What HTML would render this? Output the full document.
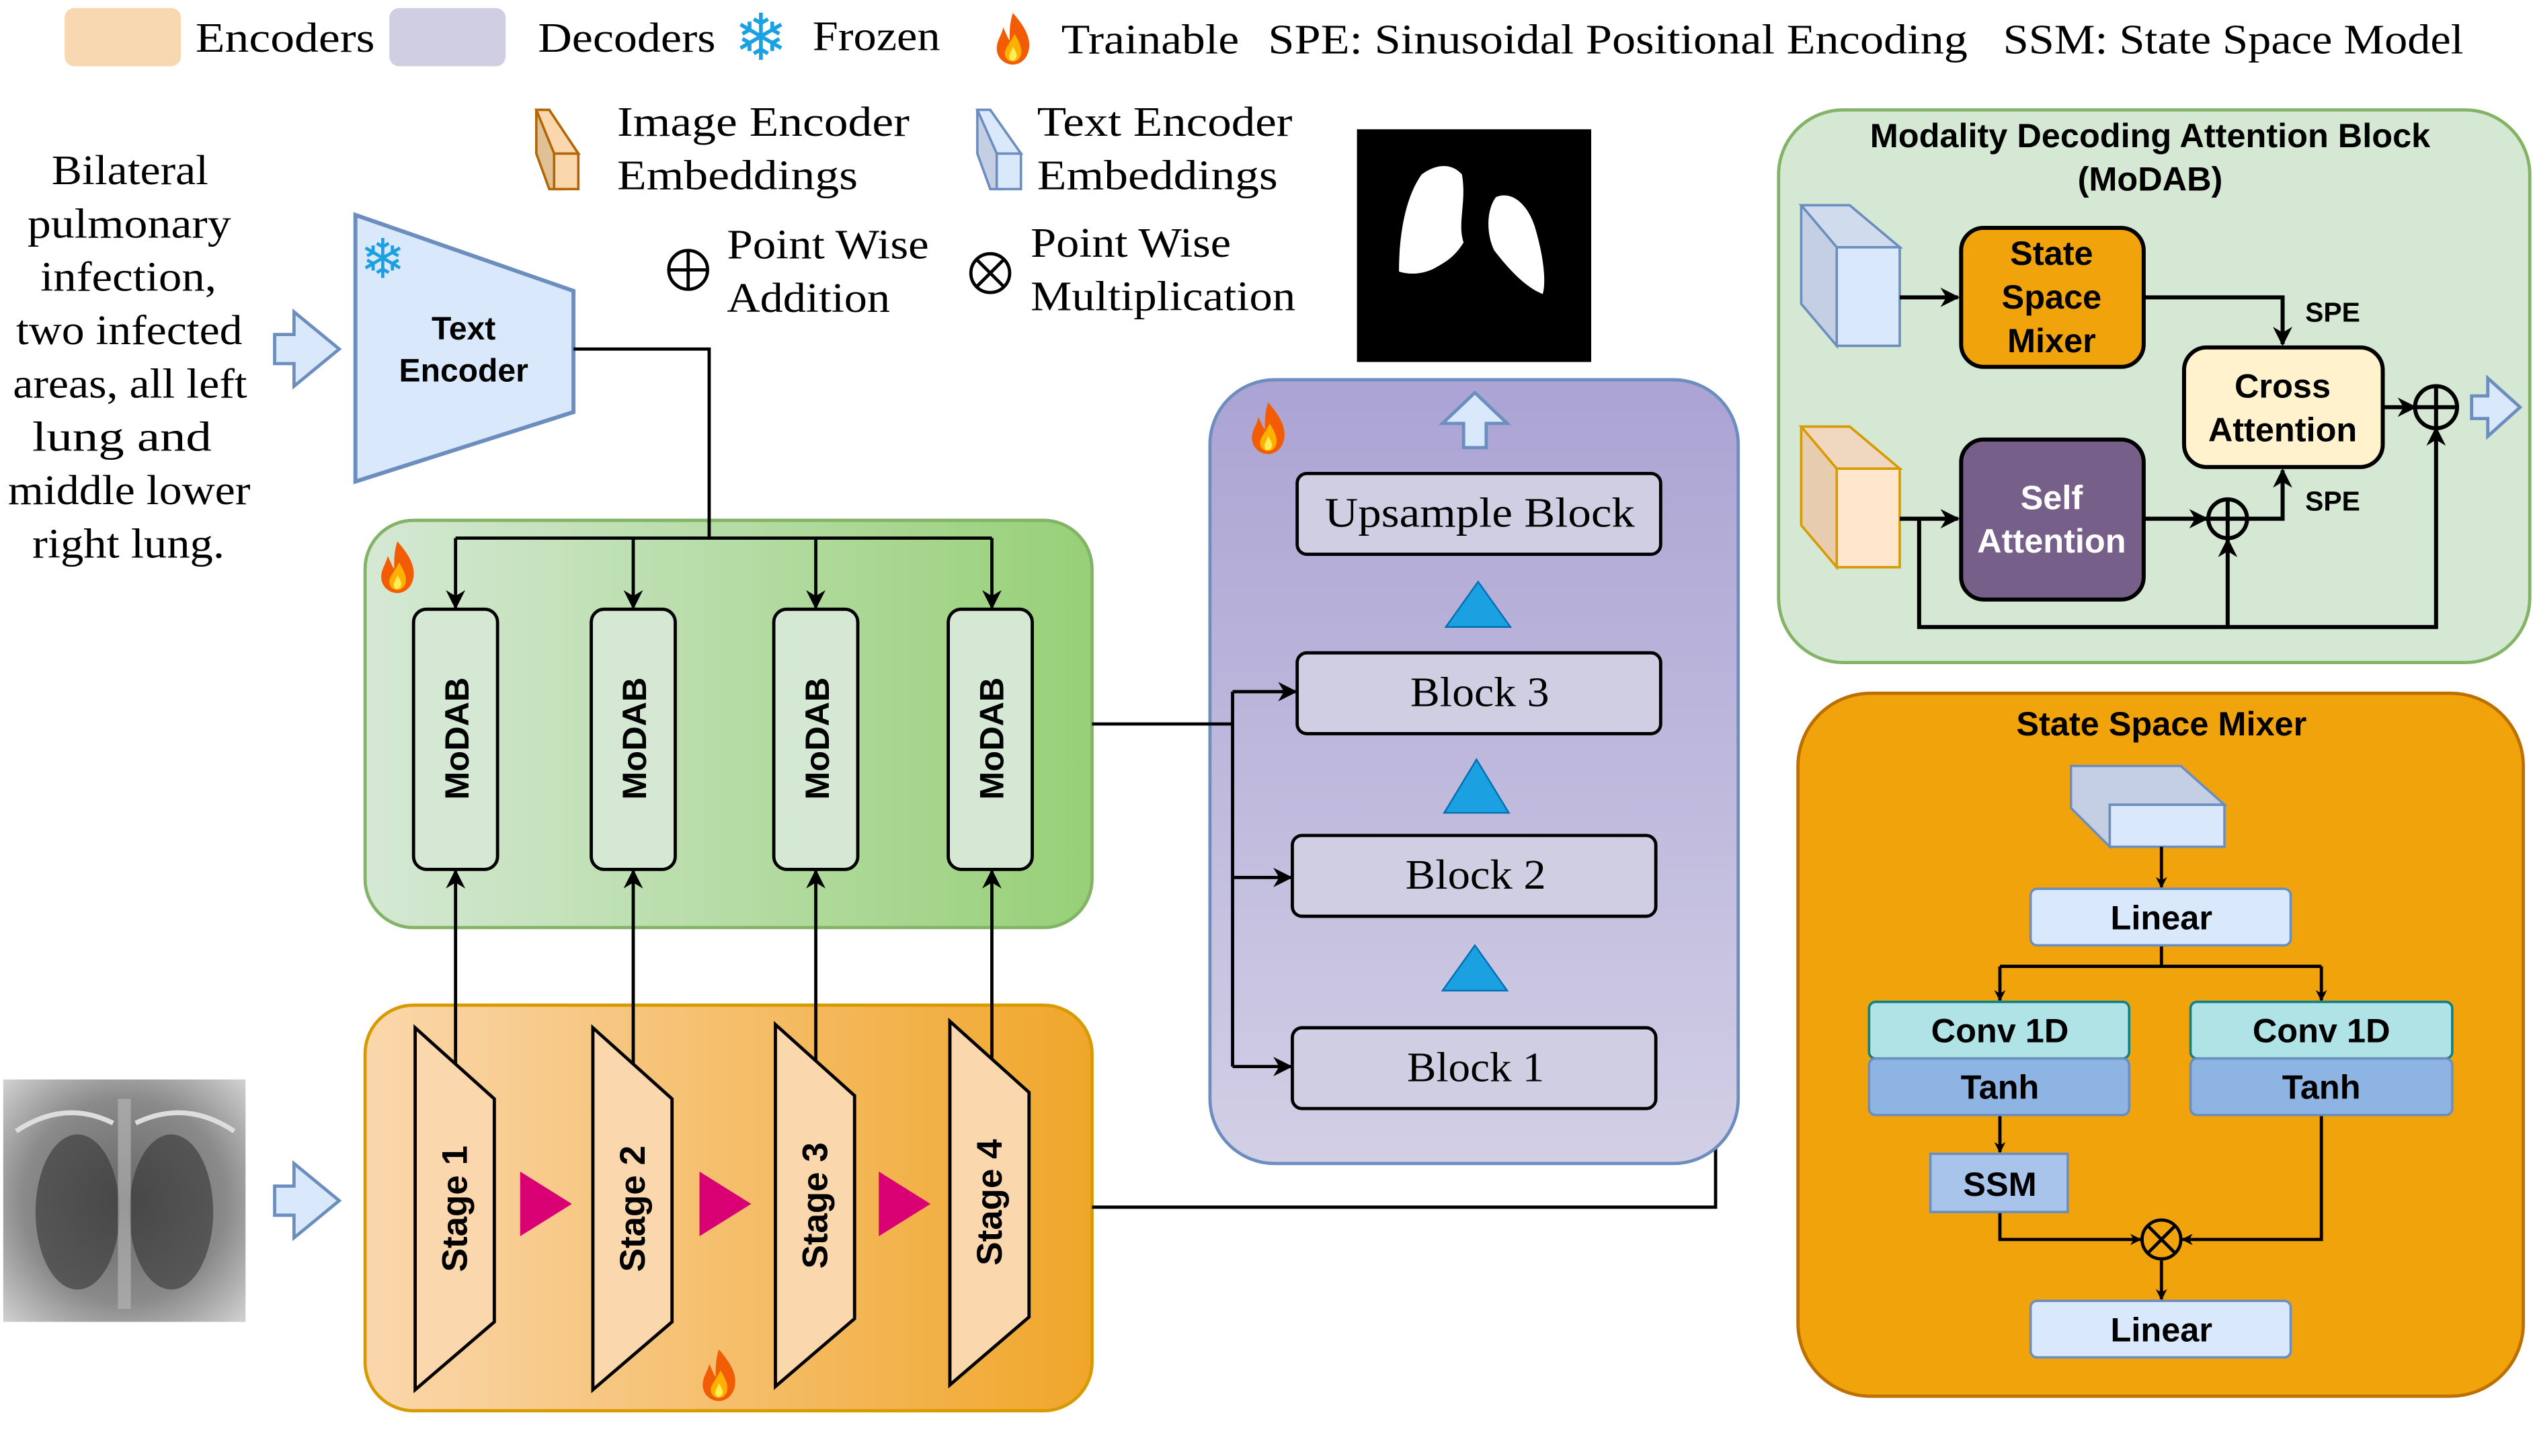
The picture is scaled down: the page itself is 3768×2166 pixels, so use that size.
<!DOCTYPE html>
<html><head><meta charset="utf-8"><style>
html,body{margin:0;padding:0;background:#fff;}
svg{display:block;}
.s{font-family:"Liberation Serif",serif;}
.b{font-family:"Liberation Sans",sans-serif;font-weight:bold;}
</style></head><body>
<svg width="3768" height="2166" viewBox="0 0 1568 901" preserveAspectRatio="none" xmlns="http://www.w3.org/2000/svg">
<defs>
<marker id="ar" viewBox="0 0 10 10" refX="9" refY="5" markerWidth="7" markerHeight="7" orient="auto" markerUnits="userSpaceOnUse"><path d="M0,0 L10,5 L0,10 L3,5z" fill="#000"/></marker>
<marker id="ar2" viewBox="0 0 10 10" refX="9" refY="5" markerWidth="12" markerHeight="12" orient="auto" markerUnits="userSpaceOnUse"><path d="M0,0 L10,5 L0,10 L3,5z" fill="#000"/></marker>
<linearGradient id="gg" x1="0" x2="1" y1="0" y2="0"><stop offset="0" stop-color="#d5e8d4"/><stop offset="1" stop-color="#97d077"/></linearGradient>
<linearGradient id="og" x1="0" x2="1" y1="0" y2="0"><stop offset="0" stop-color="#fad7ac"/><stop offset="1" stop-color="#f0a62a"/></linearGradient>
<linearGradient id="pg" x1="0" x2="0" y1="0" y2="1"><stop offset="0" stop-color="#aba3d3"/><stop offset="1" stop-color="#d2cfe6"/></linearGradient>
<radialGradient id="xr" cx="0.5" cy="0.5" r="0.7"><stop offset="0" stop-color="#666"/><stop offset="0.6" stop-color="#8a8a8a"/><stop offset="1" stop-color="#d0d0d0"/></radialGradient>
<g id="fire"><path d="M0,-17 C7,-9 11,-2 10,5 C9,12 4,15 0,15 C-5,15 -10,11 -10,5 C-10,0 -7,-3 -6,-8 C-4,-4 -3,-1 -2,0 C-2,-6 -2,-11 0,-17z" fill="#f25c05"/><path d="M1,-4 C4,1 6,5 5,9 C4,12 2,13 0,13 C-3,13 -5,11 -5,8 C-5,5 -2,2 1,-4z" fill="#ffb000"/><path d="M0,4 C2,7 3,9 2,11 C1,13 -2,13 -2,11 C-3,9 -1,7 0,4z" fill="#ffee55"/></g>
</defs>

<!-- Legend -->
<rect x="40" y="5" width="72" height="36" rx="6" fill="#f8d8b0"/>
<g class="s" font-size="26" lengthAdjust="spacingAndGlyphs">
<text x="121" y="32" textLength="111" lengthAdjust="spacingAndGlyphs">Encoders</text>
<text x="333" y="32" textLength="110" lengthAdjust="spacingAndGlyphs">Decoders</text>
<text x="503" y="31" textLength="79" lengthAdjust="spacingAndGlyphs">Frozen</text>
<text x="657" y="33" textLength="110" lengthAdjust="spacingAndGlyphs">Trainable</text>
<text x="785" y="33" textLength="433" lengthAdjust="spacingAndGlyphs">SPE:  Sinusoidal Positional Encoding</text>
<text x="1240" y="33" textLength="285" lengthAdjust="spacingAndGlyphs">SSM:  State Space Model</text>
</g>
<rect x="241" y="5" width="72" height="36" rx="6" fill="#d0cee2"/>
<text x="471" y="37" font-size="40" fill="#1ba1e2" text-anchor="middle" font-family="DejaVu Sans">❄</text>
<use href="#fire" x="627" y="25"/>

<!-- embeddings legend -->
<polygon points="332,68 340,68 348,95 348,117 340,117 332,95" fill="#e0c097" stroke="#b46504" stroke-width="1.5"/>
<rect x="343" y="95" width="15" height="22" fill="#fad7ac" stroke="#b46504" stroke-width="1.5"/>
<polygon points="332,68 340,68 358,95 343,95" fill="#fad7ac" stroke="#b46504" stroke-width="1.5"/>
<polygon points="605,68 613,68 621,95 621,117 613,117 605,95" fill="#c4cfe3" stroke="#6c8ebf" stroke-width="1.5"/>
<rect x="617" y="95" width="15" height="22" fill="#dae8fc" stroke="#6c8ebf" stroke-width="1.5"/>
<polygon points="605,68 613,68 632,95 617,95" fill="#dae8fc" stroke="#6c8ebf" stroke-width="1.5"/>
<g class="s" font-size="26">
<text x="382" y="84" textLength="181" lengthAdjust="spacingAndGlyphs">Image Encoder</text>
<text x="382" y="117" textLength="149" lengthAdjust="spacingAndGlyphs">Embeddings</text>
<text x="642" y="84" textLength="158" lengthAdjust="spacingAndGlyphs">Text Encoder</text>
<text x="642" y="117" textLength="149" lengthAdjust="spacingAndGlyphs">Embeddings</text>
<text x="450" y="160" textLength="125" lengthAdjust="spacingAndGlyphs">Point Wise</text>
<text x="450" y="193" textLength="101" lengthAdjust="spacingAndGlyphs">Addition</text>
<text x="638" y="159" textLength="124" lengthAdjust="spacingAndGlyphs">Point Wise</text>
<text x="638" y="192" textLength="164" lengthAdjust="spacingAndGlyphs">Multiplication</text>
</g>
<circle cx="426" cy="167" r="12" fill="none" stroke="#000" stroke-width="2"/><path d="M414,167H438M426,155V179" stroke="#000" stroke-width="2"/>
<circle cx="613" cy="169" r="12" fill="none" stroke="#000" stroke-width="2"/><path d="M605,161L621,177M621,161L605,177" stroke="#000" stroke-width="2"/>

<!-- left text -->
<g class="s" font-size="26">
<text x="32" y="114" textLength="97" lengthAdjust="spacingAndGlyphs">Bilateral</text>
<text x="17" y="147" textLength="126" lengthAdjust="spacingAndGlyphs">pulmonary</text>
<text x="25" y="180" textLength="109" lengthAdjust="spacingAndGlyphs">infection,</text>
<text x="10" y="213" textLength="140" lengthAdjust="spacingAndGlyphs">two infected</text>
<text x="8" y="246" textLength="145" lengthAdjust="spacingAndGlyphs">areas, all left</text>
<text x="20" y="279" textLength="111" lengthAdjust="spacingAndGlyphs">lung and</text>
<text x="5" y="312" textLength="150" lengthAdjust="spacingAndGlyphs">middle lower</text>
<text x="20" y="345" textLength="119" lengthAdjust="spacingAndGlyphs">right lung.</text>
</g>
<polygon points="170,207 182,207 182,193 210,216 182,239 182,225 170,225" fill="#dae8fc" stroke="#6c8ebf" stroke-width="2"/>
<polygon points="170,734 182,734 182,720 210,743 182,766 182,752 170,752" fill="#dae8fc" stroke="#6c8ebf" stroke-width="2"/>

<!-- text encoder -->
<polygon points="220,133 355,180 355,255 220,298" fill="#dae8fc" stroke="#6c8ebf" stroke-width="2.5"/>
<text x="237" y="172" font-size="34" fill="#1ba1e2" text-anchor="middle" font-family="DejaVu Sans">❄</text>
<text x="287" y="210" class="b" font-size="20" text-anchor="middle">Text</text>
<text x="287" y="236" class="b" font-size="20" text-anchor="middle">Encoder</text>

<!-- green box -->
<rect x="226" y="322" width="450" height="252" rx="30" fill="url(#gg)" stroke="#82b366" stroke-width="2"/>
<use href="#fire" x="246" y="352"/>
<path d="M355,216H439V333" fill="none" stroke="#000" stroke-width="2"/>
<path d="M282,333H614" stroke="#000" stroke-width="2"/>
<g stroke="#000" stroke-width="2" marker-end="url(#ar2)">
<line x1="282" y1="333" x2="282" y2="376"/><line x1="392" y1="333" x2="392" y2="376"/><line x1="505" y1="333" x2="505" y2="376"/><line x1="614" y1="333" x2="614" y2="376"/>
</g>
<g fill="#d5e8d4" stroke="#000" stroke-width="2">
<rect x="256" y="377" width="52" height="161" rx="8"/><rect x="366" y="377" width="52" height="161" rx="8"/>
<rect x="479" y="377" width="52" height="161" rx="8"/><rect x="587" y="377" width="52" height="161" rx="8"/>
</g>
<g class="b" font-size="21" text-anchor="middle">
<text transform="translate(290,457) rotate(-90)">MoDAB</text><text transform="translate(400,457) rotate(-90)">MoDAB</text>
<text transform="translate(513,457) rotate(-90)">MoDAB</text><text transform="translate(621,457) rotate(-90)">MoDAB</text>
</g>

<!-- orange box -->
<rect x="226" y="622" width="450" height="251" rx="30" fill="url(#og)" stroke="#d79b00" stroke-width="2"/>
<g stroke="#000" stroke-width="2" marker-end="url(#ar2)">
<line x1="282" y1="660" x2="282" y2="539"/><line x1="392" y1="660" x2="392" y2="539"/><line x1="505" y1="660" x2="505" y2="539"/><line x1="614" y1="655" x2="614" y2="539"/>
</g>
<g fill="#fad7ac" stroke="#000" stroke-width="2">
<polygon points="257,636 306,680 306,818 257,860"/><polygon points="367,636 416,680 416,818 367,860"/>
<polygon points="480,634 529,678 529,816 480,858"/><polygon points="588,632 637,676 637,815 588,857"/>
</g>
<g class="b" font-size="22" text-anchor="middle">
<text transform="translate(289,748) rotate(-90)">Stage 1</text><text transform="translate(399,748) rotate(-90)">Stage 2</text>
<text transform="translate(512,746) rotate(-90)">Stage 3</text><text transform="translate(620,744) rotate(-90)">Stage 4</text>
</g>
<g fill="#d80073"><polygon points="322,725 354,745 322,765"/><polygon points="433,725 465,745 433,765"/><polygon points="544,725 576,745 544,765"/></g>
<use href="#fire" x="445" y="852"/>
<!-- xray -->
<rect x="2" y="668" width="150" height="150" fill="url(#xr)"/>
<ellipse cx="48" cy="750" rx="26" ry="48" fill="#2e2e2e" opacity="0.55"/><ellipse cx="106" cy="750" rx="26" ry="48" fill="#2e2e2e" opacity="0.55"/>
<rect x="73" y="680" width="8" height="130" fill="#bbb" opacity="0.6"/>
<path d="M10,700 Q40,680 70,695 M84,695 Q115,680 145,700" stroke="#ddd" stroke-width="3" fill="none"/>

<!-- connectors -->
<path d="M676,747H1062V428" fill="none" stroke="#000" stroke-width="2"/>
<g stroke="#000" stroke-width="2" marker-end="url(#ar2)">
<line x1="1062" y1="428" x2="1030" y2="428"/><line x1="1062" y1="543" x2="1027" y2="543"/><line x1="1062" y1="663" x2="1027" y2="663"/>
</g>

<!-- purple box -->
<rect x="749" y="235" width="327" height="485" rx="40" fill="url(#pg)" stroke="#6c8ebf" stroke-width="2"/>
<path d="M676,448H763" stroke="#000" stroke-width="2"/>
<path d="M763,428V660" stroke="#000" stroke-width="2"/>
<g stroke="#000" stroke-width="2" marker-end="url(#ar2)">
<line x1="763" y1="428" x2="802" y2="428"/><line x1="763" y1="543" x2="799" y2="543"/><line x1="763" y1="660" x2="799" y2="660"/>
</g>
<use href="#fire" x="785" y="266"/>
<polygon points="906,277 906,262 893,262 913,243 933,262 920,262 920,277" fill="#dae8fc" stroke="#6c8ebf" stroke-width="2"/>
<g fill="#d0cee2" stroke="#000" stroke-width="2">
<rect x="803" y="293" width="225" height="50" rx="6"/><rect x="803" y="404" width="225" height="50" rx="6"/>
<rect x="800" y="517" width="225" height="50" rx="6"/><rect x="800" y="636" width="225" height="50" rx="6"/>
</g>
<g class="s" font-size="26">
<text x="820" y="326" textLength="192" lengthAdjust="spacingAndGlyphs">Upsample Block</text>
<text x="873" y="437" textLength="86" lengthAdjust="spacingAndGlyphs">Block 3</text>
<text x="870" y="550" textLength="87" lengthAdjust="spacingAndGlyphs">Block 2</text>
<text x="871" y="669" textLength="85" lengthAdjust="spacingAndGlyphs">Block 1</text>
</g>
<g fill="#1ba1e2" stroke="#006eaf" stroke-width="1"><polygon points="915,360 935,388 895,388"/><polygon points="914,470 934,503 894,503"/><polygon points="913,585 933,613 893,613"/></g>

<!-- mask -->
<rect x="840" y="80" width="145" height="144" fill="#000"/>
<path d="M880,108 C888,102 898,100 905,108 C908,125 902,138 906,150 C900,160 893,163 888,166 C880,170 872,170 866,168 C866,145 870,122 880,108z" fill="#fff"/>
<path d="M926,122 C935,118 945,125 950,140 C956,160 957,175 955,182 C945,178 935,168 925,155 C920,145 920,130 926,122z" fill="#fff"/>

<!-- MoDAB panel -->
<rect x="1101" y="68" width="465" height="342" rx="40" fill="#d5e8d4" stroke="#82b366" stroke-width="2"/>
<text x="1331" y="91" class="b" font-size="21" text-anchor="middle">Modality Decoding Attention Block</text>
<text x="1331" y="118" class="b" font-size="21" text-anchor="middle">(MoDAB)</text>
<polygon points="1115,127 1145,127 1176,153 1137,153 1137,214 1115,188" fill="#c4cfe3" stroke="#6c8ebf" stroke-width="1.5"/>
<polygon points="1115,127 1145,127 1176,153 1137,153" fill="#d0dcee" stroke="#6c8ebf" stroke-width="1.5"/>
<rect x="1137" y="153" width="39" height="61" fill="#dae8fc" stroke="#6c8ebf" stroke-width="1.5"/>
<polygon points="1115,264 1145,264 1176,290 1137,290 1137,351 1115,325" fill="#e8ccb0" stroke="#d79b00" stroke-width="1.5"/>
<polygon points="1115,264 1145,264 1176,290 1137,290" fill="#f0d8c0" stroke="#d79b00" stroke-width="1.5"/>
<rect x="1137" y="290" width="39" height="61" fill="#ffe6cc" stroke="#d79b00" stroke-width="1.5"/>
<g stroke="#000" stroke-width="2.5" fill="none">
<line x1="1176" y1="184" x2="1212" y2="184" marker-end="url(#ar2)"/>
<path d="M1327,184H1413V213" marker-end="url(#ar2)"/>
<line x1="1176" y1="321" x2="1212" y2="321" marker-end="url(#ar2)"/>
<line x1="1327" y1="321" x2="1366" y2="321" marker-end="url(#ar2)"/>
<path d="M1391,321H1413V291" marker-end="url(#ar2)"/>
<path d="M1188,321V388H1508V265" marker-end="url(#ar2)"/>
<line x1="1379" y1="388" x2="1379" y2="334" marker-end="url(#ar2)"/>
<line x1="1475" y1="252" x2="1495" y2="252" marker-end="url(#ar2)"/>
</g>
<rect x="1214" y="141" width="113" height="86" rx="14" fill="#f0a30a" stroke="#000" stroke-width="2.5"/>
<text x="1270" y="164" class="b" font-size="21" text-anchor="middle">State</text>
<text x="1270" y="191" class="b" font-size="21" text-anchor="middle">Space</text>
<text x="1270" y="218" class="b" font-size="21" text-anchor="middle">Mixer</text>
<rect x="1352" y="215" width="123" height="74" rx="14" fill="#fff2cc" stroke="#000" stroke-width="2.5"/>
<text x="1413" y="246" class="b" font-size="21" text-anchor="middle">Cross</text>
<text x="1413" y="273" class="b" font-size="21" text-anchor="middle">Attention</text>
<rect x="1214" y="272" width="113" height="99" rx="14" fill="#76608a" stroke="#000" stroke-width="2.5"/>
<text x="1270" y="315" class="b" font-size="21" text-anchor="middle" fill="#fff">Self</text>
<text x="1270" y="342" class="b" font-size="21" text-anchor="middle" fill="#fff">Attention</text>
<text x="1427" y="199" class="b" font-size="17">SPE</text>
<text x="1427" y="316" class="b" font-size="17">SPE</text>
<circle cx="1379" cy="321" r="12" fill="none" stroke="#000" stroke-width="2.5"/><path d="M1367,321H1391M1379,309V333" stroke="#000" stroke-width="2.5"/>
<circle cx="1508" cy="252" r="13" fill="none" stroke="#000" stroke-width="2.5"/><path d="M1495,252H1521M1508,239V265" stroke="#000" stroke-width="2.5"/>
<polygon points="1530,245 1540,245 1540,234 1560,252 1540,270 1540,259 1530,259" fill="#dae8fc" stroke="#6c8ebf" stroke-width="2"/>

<!-- SSM panel -->
<rect x="1113" y="429" width="449" height="435" rx="45" fill="#f0a30a" stroke="#bd7000" stroke-width="2"/>
<text x="1338" y="455" class="b" font-size="21" text-anchor="middle">State Space Mixer</text>
<polygon points="1282,474 1350,474 1377,498 1306,498 1306,524 1282,500" fill="#c4cfe3" stroke="#6c8ebf" stroke-width="1.5"/>
<rect x="1306" y="498" width="71" height="26" fill="#dae8fc" stroke="#6c8ebf" stroke-width="1.5"/>
<g stroke="#000" stroke-width="2" fill="none">
<line x1="1338" y1="524" x2="1338" y2="549" marker-end="url(#ar)"/>
<path d="M1338,585V598"/><path d="M1238,598H1437"/>
<line x1="1238" y1="598" x2="1238" y2="619" marker-end="url(#ar)"/>
<line x1="1437" y1="598" x2="1437" y2="619" marker-end="url(#ar)"/>
<line x1="1238" y1="690" x2="1238" y2="713" marker-end="url(#ar)"/>
<path d="M1238,750V767H1325" marker-end="url(#ar)"/>
<path d="M1437,690V767H1351" marker-end="url(#ar)"/>
<line x1="1338" y1="780" x2="1338" y2="804" marker-end="url(#ar)"/>
</g>
<rect x="1257" y="550" width="161" height="35" rx="4" fill="#dae8fc" stroke="#6c8ebf" stroke-width="1.5"/>
<text x="1338" y="575" class="b" font-size="21" text-anchor="middle">Linear</text>
<rect x="1157" y="620" width="161" height="35" rx="4" fill="#b0e3e6" stroke="#0e8088" stroke-width="1.5"/>
<rect x="1157" y="655" width="161" height="35" rx="4" fill="#8eb4e3" stroke="#6c8ebf" stroke-width="1.5"/>
<rect x="1356" y="620" width="162" height="35" rx="4" fill="#b0e3e6" stroke="#0e8088" stroke-width="1.5"/>
<rect x="1356" y="655" width="162" height="35" rx="4" fill="#8eb4e3" stroke="#6c8ebf" stroke-width="1.5"/>
<g class="b" font-size="21" text-anchor="middle">
<text x="1238" y="645">Conv 1D</text><text x="1238" y="680">Tanh</text>
<text x="1437" y="645">Conv 1D</text><text x="1437" y="680">Tanh</text>
</g>
<rect x="1195" y="714" width="85" height="36" fill="#a9c4eb" stroke="#6c8ebf" stroke-width="1.5"/>
<text x="1238" y="740" class="b" font-size="21" text-anchor="middle">SSM</text>
<circle cx="1338" cy="767" r="12" fill="none" stroke="#000" stroke-width="2"/><path d="M1330,759L1346,775M1346,759L1330,775" stroke="#000" stroke-width="2"/>
<rect x="1257" y="805" width="161" height="35" rx="4" fill="#dae8fc" stroke="#6c8ebf" stroke-width="1.5"/>
<text x="1338" y="830" class="b" font-size="21" text-anchor="middle">Linear</text>
</svg>
</body></html>
